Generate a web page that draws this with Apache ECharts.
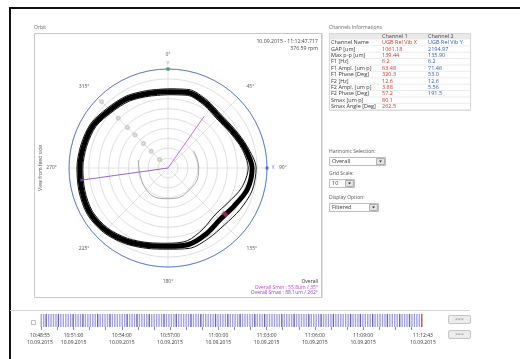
<!DOCTYPE html>
<html>
<head>
<meta charset="utf-8">
<script src="https://cdn.jsdelivr.net/npm/echarts@6/dist/echarts.min.js"></script>
<style>
html,body{margin:0;padding:0;background:#fff;}
#main{width:520px;height:359px;}
</style>
</head>
<body>
<div id="main"></div>
<script>
// orbit, read every 15 deg (radius in um)
const orbitAngles = [0,15,30,45,60,75,90,105,120,135,150,165,180,195,210,225,240,255,270,285,300,315,330,345];
const orbitMid   = [77,79,76,73,75,80,85,83,77,74,77,80,79,81,85,89,91,90,89,88,87,83,81,78];
const orbitOuter = [80,82,79,76,78,83,89,88,84,81,82,84,82,84,88,92,94,93,92,91,90,86,84,81];
const orbitInner = [74,76,73,70,72,77,81,77,70,67,71,76,76,78,82,86,88,87,86,85,84,80,78,75];
const sminVec = [64, 35];
const smaxVec = [88, 262];
const keyMark = [74, 129];
const vectorDots = [12, 24, 35, 47, 58, 71, 95];
const rotArc = [[31,56],[31,90],[31,135],[31,180],[31,225],[31,285]];

// channel table
const rowLabels = ['Channel Name','GAP [um]','Max p-p [um]','F1 [Hz]','F1 Ampl. [um p]','F1 Phase [Deg]','F2 [Hz]','F2 Ampl. [um p]','F2 Phase [Deg]','Smax [um p]','Smax Angle [Deg]'];
const ch1Values = ['UGB Rel Vib X','1061.18','139.44','6.2','63.48','320.3','12.6','3.88','57.2','80.1','262.5'];
const ch2Values = ['UGB Rel Vib Y','2194.97','135.90','6.2','71.46','53.0','12.6','5.56','191.5','',''];

// timeline
const timeLabels = ['10:48:55','10:51:00','10:54:00','10:57:00','11:00:00','11:03:00','11:06:00','11:09:00','11:12:43'];
const recDate = '10.09.2015';
const sampleKinds = 'LLDLLLLDLLLLLDLLLDLLLLLDLLLLDLLLLLLDLLLDLLLLDLLLLLDLLLLDLLLLLDLLLDLLLLLDLLLLDLLLLDLLLLLDLLLDLLLLLLDLLLLDLLLLLDLLLLDLLLLDLLLLLLDLLLDLLLLDLLLLLDLLLLDLLLDLLLLR'.split('');

const toSec = s => { const p = s.split(':').map(Number); return p[0]*3600 + p[1]*60 + p[2]; };
const pad = n => (n < 10 ? '0' : '') + n;
const fmtTime = v => pad(Math.floor(v/3600)) + ':' + pad(Math.floor(v%3600/60)) + ':' + pad(v%60) + '\n' + recDate;
const tStart = toSec(timeLabels[0]), tEnd = toSec(timeLabels[timeLabels.length-1]);
const minuteTicks = [];
for (let t = Math.ceil(tStart/60)*60; t <= tEnd; t += 60) minuteTicks.push(t);

const FONT = 'Open Sans';
const T = (x, y, text, opt) => ({type:'text', x, y, silent:true,
  style: Object.assign({text, fontSize:5.5, fontFamily:FONT, fill:'#444', verticalAlign:'middle'}, opt || {})});
const R = (x, y, w, h, fill, stroke, r) => ({type:'rect', shape:{x, y, width:w, height:h, r:r||0},
  style:{fill:fill||'none', stroke:stroke||null, lineWidth:1}});
const L = (x1, y1, x2, y2, c, w) => ({type:'line', shape:{x1, y1, x2, y2}, style:{stroke:c, lineWidth:w||1}});

const g = [];
// frame
g.push(R(9, 7, 511, 2, '#111'));
g.push(R(9, 7, 2, 352, '#111'));
// orbit panel
g.push(T(34, 28, 'Orbit', {fill:'#666', fontSize:5}));
g.push(R(34.5, 33.5, 287, 264, '#fff', '#c6c6c6'));
g.push(T(318, 42, '10.09.2015 - 11:12:47.717', {align:'right', fontSize:5.2}));
g.push(T(318, 49, '376.59 rpm', {align:'right', fontSize:5.2}));
g.push({type:'text', x:41, y:168, rotation:Math.PI/2, silent:true,
  style:{text:'View from feed side', fontSize:5, fontFamily:FONT, fill:'#555', align:'center', verticalAlign:'middle'}});
g.push(T(318, 282, 'Overall', {align:'right', fontSize:5, fill:'#333'}));
g.push(T(318, 287.5, 'Overall Smin : 55.8um / 35°', {align:'right', fontSize:5, fill:'#c23fc2'}));
g.push(T(318, 292.5, 'Overall Smax : 88.1um / 262°', {align:'right', fontSize:5, fill:'#8447c4'}));
// right panel
g.push(L(322, 33, 322, 298, '#c6c6c6'));
g.push(T(329, 28, 'Channels Informations', {fill:'#666', fontSize:5}));
const tx = 329, tw = 141, ty = 33, rh = 6.4;
g.push(R(tx, ty, tw, rh, '#e9e9e9'));
g.push(T(382, ty + rh/2, 'Channel 1'));
g.push(T(428, ty + rh/2, 'Channel 2'));
rowLabels.forEach((lab, i) => {
  const y = ty + rh*(i+1);
  g.push(L(tx, y + rh, tx + tw, y + rh, '#ececec'));
  g.push(T(331, y + rh/2, lab, {fill:'#333'}));
  g.push(T(382, y + rh/2, ch1Values[i], {fill:'#c0392b'}));
  g.push(T(428, y + rh/2, ch2Values[i], {fill:'#2f5aa8'}));
});
g.push(R(tx + 0.5, ty + 0.5, tw, rh*(rowLabels.length+1), 'none', '#d6d6d6'));
// dropdowns
const dropdown = (y, w, label, value) => {
  g.push(T(329, y - 5, label, {fill:'#555', fontSize:5}));
  g.push(R(329.5, y + 0.5, w, 8, '#fff', '#bdbdbd'));
  g.push(R(329.5 + w - 9, y + 1.5, 8, 6, '#e4e4e4', '#b0b0b0'));
  g.push({type:'polygon', shape:{points:[[329.5+w-6.5, y+3.5],[329.5+w-3.5, y+3.5],[329.5+w-5, y+5.5]]}, style:{fill:'#333'}});
  g.push(T(332, y + 4.5, value, {fill:'#333'}));
};
dropdown(157, 56, 'Harmonic Selection:', 'Overall');
dropdown(179, 25, 'Grid Scale:', '10');
dropdown(203, 49, 'Display Option:', 'Filtered');
// timeline chrome
g.push(L(10, 310.5, 470, 310.5, '#d4d4d4'));
g.push(R(31.5, 320.5, 4, 4, '#fff', '#bbb'));
g.push(R(448.5, 315.5, 22, 8, '#ececec', '#c4c4c4', 1.5));
g.push(T(459.5, 319.5, '<<<', {align:'center', fontSize:5, fill:'#555'}));
g.push(R(448.5, 330.5, 22, 8, '#ececec', '#c4c4c4', 1.5));
g.push(T(459.5, 334.5, '>>>', {align:'center', fontSize:5, fill:'#555'}));

const loop = (radii) => {
  const d = orbitAngles.map((a, i) => [radii[i], a]);
  d.push([radii[0], 360]);
  return d;
};
const kindColor = {L:'#a3a3dc', D:'#6565ad', R:'#d9434b'};

const chart = echarts.init(document.getElementById('main'));
chart.setOption({
  animation: false,
  backgroundColor: '#fff',
  textStyle: {fontFamily: FONT},
  graphic: {elements: g},
  polar: {center: [168, 168], radius: 99},
  angleAxis: {
    type: 'value', min: 0, max: 360, interval: 45, startAngle: 90, clockwise: true, z: 3,
    axisLine: {lineStyle: {color: '#5d80c4', width: 1}},
    axisTick: {show: false},
    axisLabel: {formatter: '{value}°', margin: 12, fontSize: 5, color: '#555'},
    splitLine: {lineStyle: {color: '#dadada', width: 0.8}}
  },
  radiusAxis: {
    type: 'value', min: 0, max: 100, interval: 10,
    axisLine: {show: false}, axisTick: {show: false}, axisLabel: {show: false},
    splitLine: {lineStyle: {color: '#d6d6d6', width: 0.8}}
  },
  grid: {left: 40, top: 314, width: 383, height: 13},
  xAxis: [
    {type: 'category', data: sampleKinds.map((k, i) => i), show: false},
    {type: 'value', min: tStart, max: tEnd, position: 'bottom',
     axisLine: {show: false}, splitLine: {show: false},
     axisTick: {show: true, customValues: minuteTicks, length: 3, lineStyle: {color: '#8a8a8a'}},
     axisLabel: {customValues: timeLabels.map(toSec), formatter: v => fmtTime(v), fontSize: 5, lineHeight: 7, color: '#333', margin: 5}}
  ],
  yAxis: {type: 'value', min: 0, max: 1, show: false},
  series: [
    {type: 'line', coordinateSystem: 'polar', data: loop(orbitOuter), smooth: 0.3, showSymbol: false,
     lineStyle: {color: '#111', width: 1}, z: 4},
    {type: 'line', coordinateSystem: 'polar', data: loop(orbitInner), smooth: 0.3, showSymbol: false,
     lineStyle: {color: '#111', width: 1}, z: 4},
    {type: 'line', coordinateSystem: 'polar', data: loop(orbitMid), smooth: 0.3, showSymbol: false,
     lineStyle: {color: '#000', width: 5}, z: 4},
    {type: 'line', coordinateSystem: 'polar', data: rotArc, smooth: 0.5, showSymbol: false,
     symbol: ['arrow', 'none'], lineStyle: {color: '#a8a8a8', width: 1}, z: 3},
    {type: 'scatter', coordinateSystem: 'polar', data: vectorDots.map(r => [r, 315]),
     symbol: 'emptyCircle', symbolSize: 3, itemStyle: {color: '#c4c4c4', borderWidth: 0.8}, z: 3},
    {type: 'line', coordinateSystem: 'polar', data: [[0, sminVec[1]], sminVec], showSymbol: false,
     lineStyle: {color: '#d06ad0', width: 1}, z: 5},
    {type: 'line', coordinateSystem: 'polar', data: [[0, smaxVec[1]], smaxVec], showSymbol: false,
     lineStyle: {color: '#9a62d6', width: 1}, z: 5},
    {type: 'scatter', coordinateSystem: 'polar', data: [keyMark], symbol: 'rect', symbolSize: [6, 4],
     symbolRotate: -40, itemStyle: {color: '#b8306f'}, z: 6},
    {type: 'scatter', coordinateSystem: 'polar', data: [smaxVec], symbol: 'rect', symbolSize: 3,
     itemStyle: {color: '#6b3fb0'}, z: 6},
    {type: 'scatter', coordinateSystem: 'polar', data: [[100, 0]], symbolSize: 4,
     itemStyle: {color: '#3fa33f'}, z: 6,
     label: {show: true, formatter: 'Y', position: 'top', distance: 1, fontSize: 5, color: '#d04a8c'}},
    {type: 'scatter', coordinateSystem: 'polar', data: [[100, 90]], symbolSize: 3.5,
     itemStyle: {color: '#3b5fb8'}, z: 6,
     label: {show: true, formatter: 'X', position: 'right', distance: 3, fontSize: 5, color: '#3b5fb8'}},
    {type: 'bar', xAxisIndex: 0, yAxisIndex: 0, barWidth: 1.4,
     data: sampleKinds.map(k => ({value: 1, itemStyle: {color: kindColor[k]}}))}
  ]
});
</script>
</body>
</html>
